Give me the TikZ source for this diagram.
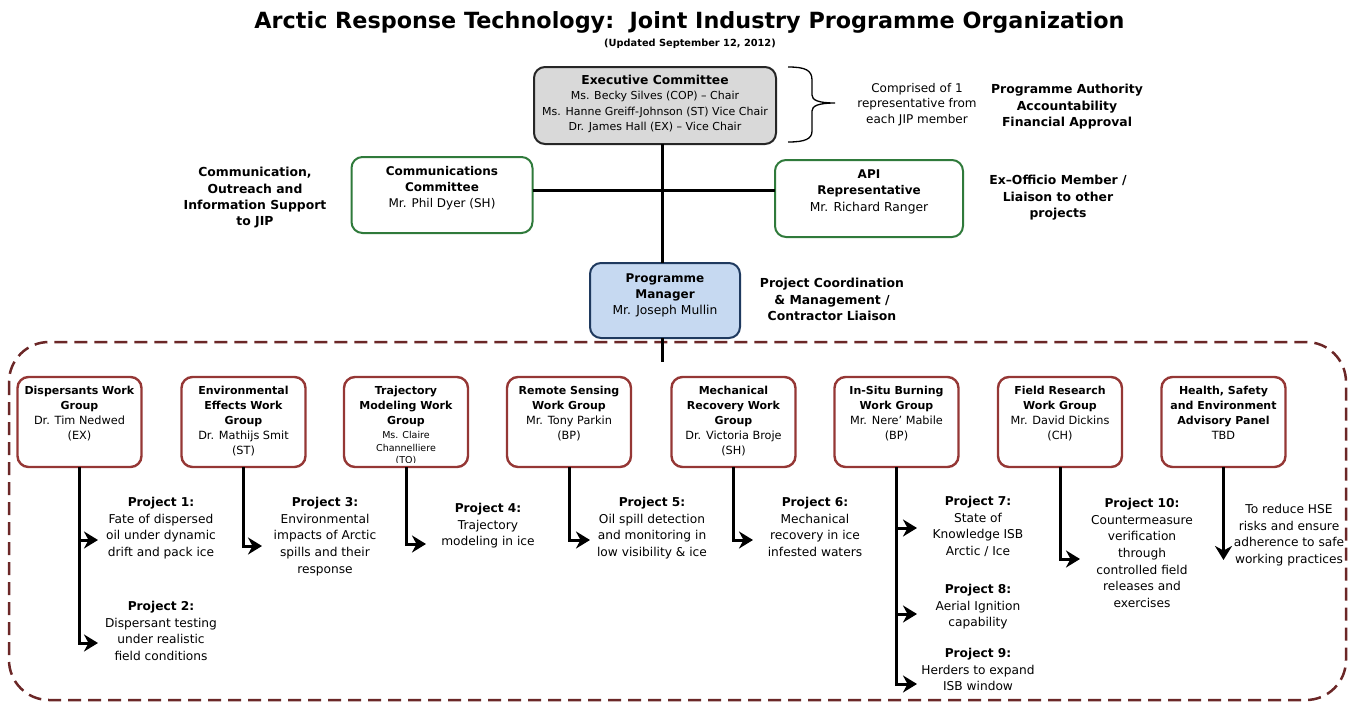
\documentclass[tikz,border=0pt]{standalone}
\usepackage{fontspec}
\setmainfont{DejaVu Sans}
\usetikzlibrary{arrows.meta}
\definecolor{wgred}{HTML}{953735}
\definecolor{dashred}{HTML}{6B2727}
\definecolor{grn}{HTML}{2F7A3B}
\definecolor{pmfill}{HTML}{C6D9F1}
\definecolor{pmdraw}{HTML}{1F3A5F}
\definecolor{exfill}{HTML}{D9D9D9}
\definecolor{exdraw}{HTML}{262626}
\newcommand{\wgname}[1]{{\fontsize{11.3}{15}\selectfont #1}}
\begin{document}
\begin{tikzpicture}[x=1pt,y=-1pt,
  every node/.style={inner sep=0pt,outer sep=0pt,align=center},
  boxbase/.style={draw,rounded corners=11pt,line width=2pt},
  wgbox/.style={boxbase,draw=wgred,line width=2.4pt,minimum width=124pt,minimum height=90pt},
  grnbox/.style={boxbase,draw=grn},
  wgtext/.style={font=\fontsize{11}{15}\selectfont,anchor=north},
  bigtext/.style={font=\fontsize{12}{16}\selectfont,anchor=north},
  ptext/.style={font=\fontsize{12.2}{16.7}\selectfont,anchor=north},
  sidetext/.style={font=\fontsize{12.4}{16.3}\selectfont\bfseries,anchor=north},
  trunk/.style={line width=3pt},
  conn/.style={line width=3pt,line join=miter,-{Stealth[length=14pt,width=17pt,inset=4.5pt]}}
  ]
\useasboundingbox (0,0) rectangle (1353,702);

% title
\node[font=\fontsize{22.3}{26}\selectfont\bfseries] (title) at (689.5,22) {Arctic Response Technology:\ \ Joint Industry Programme Organization};
\node[font=\fontsize{9.8}{11}\selectfont\bfseries] (upd) at (690,44) {(Updated September 12, 2012)};

% dashed region
\draw[dashred,line width=2.5pt,dash pattern=on 13pt off 7pt,rounded corners=40pt] (9,342) rectangle (1346,700);

% top boxes
\node[boxbase,draw=exdraw,fill=exfill,minimum width=242pt,minimum height=77pt] (exec) at (655,105.5) {};
\node[grnbox,minimum width=181pt,minimum height=76pt] (comm) at (442,195) {};
\node[grnbox,minimum width=188pt,minimum height=77pt] (api) at (869,198.5) {};
\node[boxbase,draw=pmdraw,fill=pmfill,minimum width=150pt,minimum height=75pt] (pm) at (665,300.5) {};

% work group boxes
\node[wgbox] (wg1) at (79.5,422) {};
\node[wgbox] (wg2) at (243.5,422) {};
\node[wgbox] (wg3) at (406,422) {};
\node[wgbox] (wg4) at (569,422) {};
\node[wgbox] (wg5) at (733.5,422) {};
\node[wgbox] (wg6) at (896.5,422) {};
\node[wgbox] (wg7) at (1060,422) {};
\node[wgbox] (wg8) at (1223.5,422) {};

% texts in top boxes
\node[wgtext,font=\fontsize{11}{15.3}\selectfont] (exect) at (655,75.3) {{\fontsize{12.3}{15.3}\selectfont\bfseries Executive Committee}\\Ms. Becky Silves (COP) – Chair\\Ms. Hanne Greiff-Johnson (ST) Vice Chair\\Dr. James Hall (EX) – Vice Chair};
\node[bigtext] (commt) at (442,166.3) {\textbf{Communications}\\\textbf{Committee}\\Mr. Phil Dyer (SH)};
\node[bigtext,font=\fontsize{12.3}{16.5}\selectfont] (apit) at (869,169.3) {{\fontsize{12}{16.5}\selectfont\bfseries API}\\{\fontsize{12}{16.5}\selectfont\bfseries Representative}\\Mr. Richard Ranger};
\node[bigtext,font=\fontsize{12.3}{16}\selectfont] (pmt) at (665,273.3) {{\fontsize{12}{16}\selectfont\bfseries Programme}\\{\fontsize{12}{16}\selectfont\bfseries Manager}\\Mr. Joseph Mullin};

% side notes
\node[font=\fontsize{12}{15.5}\selectfont,anchor=north] (compr) at (917,83.3) {Comprised of 1\\representative from\\each JIP member};
\node[sidetext] (auth) at (1067,84.3) {Programme Authority\\Accountability\\Financial Approval};
\node[sidetext] (commnote) at (255,167.3) {Communication,\\Outreach and\\Information Support\\to JIP};
\node[sidetext] (exoff) at (1058,175.3) {Ex–Officio Member /\\Liaison to other\\projects};
\node[sidetext] (pcoord) at (832,278.3) {Project Coordination\\\& Management /\\Contractor Liaison};

% brace
\draw[line width=1.3pt] (788,67) .. controls (805,67) and (812,70) .. (812,80) -- (812,95) .. controls (812,100) and (818,103) .. (835,103) .. controls (818,103) and (812,106) .. (812,111) -- (812,131) .. controls (812,139) and (805,142) .. (788,142);

% work group texts
\node[wgtext] (wg1t) at (79.5,386.5) {\textbf{Dispersants Work}\\\textbf{Group}\\\wgname{Dr. Tim Nedwed}\\\wgname{(EX)}};
\node[wgtext] (wg2t) at (243.5,386.5) {\textbf{Environmental}\\\textbf{Effects Work}\\\textbf{Group}\\\wgname{Dr. Mathijs Smit}\\\wgname{(ST)}};
\node[wgtext] (wg3t) at (406,386.5) {\textbf{Trajectory}\\\textbf{Modeling Work}\\\textbf{Group}};
\begin{scope}
\clip (344,377) rectangle (468,462);
\node[wgtext,font=\fontsize{9.5}{12.5}\selectfont] (wg3n) at (406,431.3) {Ms. Claire\\Channelliere\\(TO)};
\end{scope}
\node[wgtext] (wg4t) at (569,386.5) {\textbf{Remote Sensing}\\\textbf{Work Group}\\\wgname{Mr. Tony Parkin}\\\wgname{(BP)}};
\node[wgtext] (wg5t) at (733.5,386.5) {\textbf{Mechanical}\\\textbf{Recovery Work}\\\textbf{Group}\\\wgname{Dr. Victoria Broje}\\\wgname{(SH)}};
\node[wgtext] (wg6t) at (896.5,386.5) {\textbf{In-Situ Burning}\\\textbf{Work Group}\\\wgname{Mr. Nere’ Mabile}\\\wgname{(BP)}};
\node[wgtext] (wg7t) at (1060,386.5) {\textbf{Field Research}\\\textbf{Work Group}\\\wgname{Mr. David Dickins}\\\wgname{(CH)}};
\node[wgtext] (wg8t) at (1223.5,386.5) {\textbf{Health, Safety}\\\textbf{and Environment}\\\textbf{Advisory Panel}\\\wgname{TBD}};

% project texts
\node[ptext] (p1) at (161,497.2) {\textbf{Project 1:}\\Fate of dispersed\\oil under dynamic\\drift and pack ice};
\node[ptext] (p2) at (161,601.2) {\textbf{Project 2:}\\Dispersant testing\\under realistic\\field conditions};
\node[ptext] (p3) at (325,497.2) {\textbf{Project 3:}\\Environmental\\impacts of Arctic\\spills and their\\response};
\node[ptext] (p4) at (488,503.2) {\textbf{Project 4:}\\Trajectory\\modeling in ice};
\node[ptext] (p5) at (652,497.2) {\textbf{Project 5:}\\Oil spill detection\\and monitoring in\\low visibility \& ice};
\node[ptext] (p6) at (815,497.2) {\textbf{Project 6:}\\Mechanical\\recovery in ice\\infested waters};
\node[ptext] (p7) at (978,496.2) {\textbf{Project 7:}\\State of\\Knowledge ISB\\Arctic / Ice};
\node[ptext] (p8) at (978,584.2) {\textbf{Project 8:}\\Aerial Ignition\\capability};
\node[ptext] (p9) at (978,648.2) {\textbf{Project 9:}\\Herders to expand\\ISB window};
\node[ptext] (p10) at (1142,498.2) {\textbf{Project 10:}\\Countermeasure\\verification\\through\\controlled field\\releases and\\exercises};
\node[ptext] (hse) at (1289,504.2) {To reduce HSE\\risks and ensure\\adherence to safe\\working practices};

% trunk connectors
\coordinate (trunkx) at (662,0);
\coordinate (trunkend) at (662,362);
\coordinate (hy) at (0,190);
\draw[trunk] (exec.south -| trunkx) -- (pm.north -| trunkx);
\draw[trunk] (pm.south -| trunkend) -- (trunkend);
\draw[trunk] (comm.east |- hy) -- (api.west |- hy);

% project arrows
\coordinate (a1) at (98,540);
\coordinate (a2) at (98,643);
\coordinate (a3) at (262,546);
\coordinate (a4) at (426,544);
\coordinate (a5) at (590,540);
\coordinate (a6) at (753,540);
\coordinate (a7) at (917,528);
\coordinate (a8) at (917,614);
\coordinate (a9) at (917,684);
\coordinate (a10) at (1080,559);
\coordinate (a11) at (1223.5,560);
\draw[conn] (wg1.south) |- (a1);
\draw[conn] (wg1.south) |- (a2);
\draw[conn] (wg2.south) |- (a3);
\draw[conn] (wg3.south) |- (a4);
\draw[conn] (wg4.south) |- (a5);
\draw[conn] (wg5.south) |- (a6);
\draw[conn] (wg6.south) |- (a7);
\draw[conn] (wg6.south) |- (a8);
\draw[conn] (wg6.south) |- (a9);
\draw[conn] (wg7.south) |- (a10);
\draw[conn] (wg8.south) -- (a11);
\end{tikzpicture}
\end{document}
